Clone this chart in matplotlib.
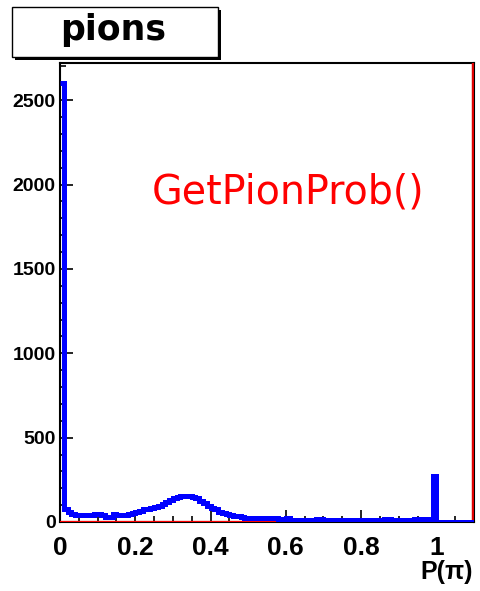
import numpy as np
import matplotlib
matplotlib.use("Agg")
import matplotlib.pyplot as plt
from matplotlib.patches import Rectangle

# pion probability histogram, 110 bins of width 0.01 over [0, 1.1]
edges = np.round(np.arange(0, 1.1001, 0.01), 4)
pion_counts = [
    2600, 78, 60, 45, 42, 40, 40, 41, 42, 50,
    48, 40, 30, 32, 45, 44, 40, 42, 50, 55,
    60, 65, 75, 78, 82, 88, 95, 105, 120, 130,
    140, 148, 152, 155, 155, 150, 142, 125, 110, 95,
    82, 75, 60, 52, 45, 40, 38, 35, 28, 26,
    25, 25, 24, 23, 22, 22, 22, 21, 20, 20,
    21, 14, 13, 13, 13, 12, 13, 14, 18, 18,
    14, 12, 9, 8, 12, 13, 13, 13, 13, 13,
    13, 13, 12, 12, 12, 12, 18, 18, 12, 12,
    12, 12, 12, 12, 18, 18, 18, 19, 20, 275,
    0, 0, 0, 0, 0, 0, 0, 0, 0, 0,
]
# second (red) histogram: empty low part, overflow at the upper edge
red_edges = [0.0, 0.58]
red_counts = [0]
red_overflow = 5000

x_ticks = [0, 0.2, 0.4, 0.6, 0.8, 1]
x_ticklabels = ["0", "0.2", "0.4", "0.6", "0.8", "1"]
y_ticks = [0, 500, 1000, 1500, 2000, 2500]

W, H = 481, 591
fig = plt.figure(figsize=(W / 100, H / 100), dpi=100)
ax = fig.add_axes([60 / W, 1 - 522 / H, 414 / W, 459 / H])

ax.stairs(red_counts, red_edges, color="#ff0000", lw=1.6, baseline=None, zorder=2.6)
ax.vlines(edges[-1], 0, red_overflow, color="#e00000", lw=3.2, zorder=2.6)
ax.stairs(pion_counts, edges, color="#0000ff", lw=3.6, baseline=None, zorder=2.7)

ax.set_xlim(0, 1.1)
ax.set_ylim(0, 2720)

ax.set_xticks(x_ticks)
ax.set_xticklabels(x_ticklabels)
ax.set_xticks(np.arange(0.05, 1.1, 0.05), minor=True)
ax.set_yticks(y_ticks)
ax.set_yticks(np.arange(100, 2720, 100), minor=True)

for lab in ax.get_xticklabels():
    lab.set_fontfamily("Liberation Sans")
    lab.set_fontweight("bold")
    lab.set_fontsize(19)
for lab in ax.get_yticklabels():
    lab.set_fontfamily("Liberation Sans")
    lab.set_fontweight("bold")
    lab.set_fontsize(14)

ax.tick_params(axis="both", which="major", direction="in", length=9, width=1.2, color="black")
ax.tick_params(axis="both", which="minor", direction="in", length=4.5, width=1.2, color="black")
ax.tick_params(axis="x", which="major", pad=10)
ax.tick_params(axis="y", which="major", pad=3)
for side in ["left", "bottom", "top", "right"]:
    ax.spines[side].set_linewidth(1.5)
    ax.spines[side].set_color("black")

ax.text(0.552, 0.717, "GetPionProb()", transform=ax.transAxes, color="#ff0000",
        fontsize=28.5, family="DejaVu Sans", ha="center", va="center")

fig.text(473 / W, 1 - 579 / H, "P(π)", ha="right", va="baseline",
         fontsize=18, fontweight="bold", family="Liberation Sans")

# title box with drop shadow
fig.patches.append(Rectangle((15 / W, 1 - 60 / H), 206 / W, 50 / H, transform=fig.transFigure,
                             facecolor="black", edgecolor="none", zorder=1))
fig.patches.append(Rectangle((12 / W, 1 - 57 / H), 206 / W, 50 / H, transform=fig.transFigure,
                             facecolor="white", edgecolor="black", lw=1.0, zorder=2))
fig.text(113 / W, 1 - 40 / H, "pions", ha="center", va="baseline",
         fontsize=25, fontweight="bold", family="DejaVu Sans", zorder=3)

fig.savefig("out.png", dpi=100)
